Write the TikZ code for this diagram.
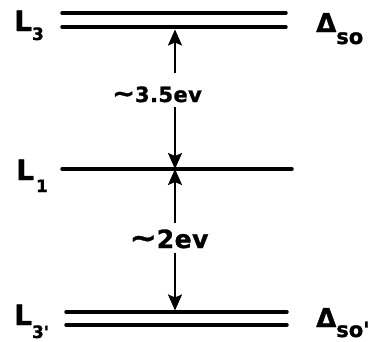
\documentclass[tikz,border=0pt]{standalone}
\usepackage{fontspec}
\usepackage{graphicx}
\setmainfont{DejaVu Sans}[Ligatures=TeXOff, BoldFont={DejaVu Sans Bold}, BoldFeatures={FakeBold=1.2}]
\usetikzlibrary{arrows.meta}
\tikzset{
  level/.style={line width=3.5pt, line cap=round},
  gap/.style={line width=2.2pt, -{Stealth[length=16pt,width=14pt,inset=3pt]}},
  lbl/.style={inner sep=0pt, font=\bfseries},
}
\newcommand{\fsz}[1]{\fontsize{#1}{#1}\selectfont}
\newcommand{\tld}{\scalebox{1.3}[1.2]{\char"7E\relax}}
\begin{document}
\begin{tikzpicture}[x=1pt,y=-1pt]
\useasboundingbox (0,0) rectangle (381,341);
% levels
\coordinate (t1a) at (62,13);  \coordinate (t1b) at (286,13);
\coordinate (t2a) at (62,27);  \coordinate (t2b) at (286,27);
\coordinate (m1a) at (62,169); \coordinate (m1b) at (292,169);
\coordinate (b1a) at (66,312); \coordinate (b1b) at (287,312);
\coordinate (b2a) at (66,325); \coordinate (b2b) at (287,325);
\draw[level] (t1a) -- (t1b);
\draw[level] (t2a) -- (t2b);
\draw[level] (m1a) -- (m1b);
\draw[level] (b1a) -- (b1b);
\draw[level] (b2a) -- (b2b);
% gap labels
\node[lbl, anchor=base] (g1) at (157,102) {\fsz{21}\addfontfeatures{LetterSpace=2}\tld 3.5ev};
\node[lbl, anchor=base] (g2) at (169,248) {\fsz{25}\addfontfeatures{LetterSpace=2}\tld 2ev};
% arrow end points
\coordinate (a1s) at (175,73);  \coordinate (a1e) at (175,29.5);
\coordinate (a2s) at (175,107); \coordinate (a2e) at (175,169);
\coordinate (a3s) at (175,223); \coordinate (a3e) at (175,169);
\coordinate (a4s) at (175,253); \coordinate (a4e) at (175,310.5);
\draw[gap] (a1s) -- (a1e);
\draw[gap] (a2s) -- (a2e);
\draw[gap] (a3s) -- (a3e);
\draw[gap] (a4s) -- (a4e);
% level labels
\node[lbl, anchor=base west] (L3) at (14,31) {\fsz{28}L\raisebox{-9pt}{\fsz{17}3}};
\node[lbl, anchor=base west] (L1) at (16,180) {\fsz{28}L\hspace{2pt}\raisebox{-12pt}{\fsz{17}1}};
\node[lbl, anchor=base west] (L3p) at (14,325) {\fsz{28}L\raisebox{-13pt}{\fsz{17}3'}};
\node[lbl, anchor=base west] (D1) at (316,32) {\fsz{26}Δ\raisebox{-12pt}{\fsz{21}so}};
\node[lbl, anchor=base west] (D2) at (316,327) {\fsz{26}Δ\raisebox{-10pt}{\fsz{21}so'}};
\end{tikzpicture}
\end{document}
